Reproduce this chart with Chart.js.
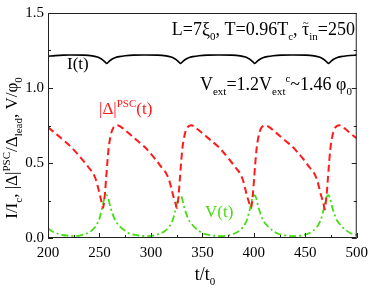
<!DOCTYPE html>
<html>
<head>
<meta charset="utf-8">
<script src="https://cdn.jsdelivr.net/npm/chart.js@4/dist/chart.umd.min.js"></script>
<style>
  html,body{margin:0;padding:0;background:#fff;}
  #wrap{position:relative;width:374px;height:290px;}
</style>
</head>
<body>
<div id="wrap"><canvas id="c"></canvas></div>
<script>
// I(t) current
const tCurrent = [200,207,215,221,235,243,248,251,253,255,257,258,259.5,262,265,269,275,283,293,
  306.7,314.7,319.7,322.7,324.7,326.7,328.7,329.7,331.2,333.7,336.7,340.7,346.7,354.7,365,
  378.8,386.8,391.8,394.8,396.8,398.8,400.8,401.8,403.3,405.8,408.8,412.8,418.8,426.8,437,
  450.5,458.5,463.5,466.5,468.5,470.5,472.5,473.5,475,477.5,480.5,484.5,490.5,498.5,500];
const current = [1.212,1.216,1.219,1.220,1.219,1.214,1.206,1.197,1.188,1.176,1.163,1.168,1.178,1.192,1.202,1.209,1.215,1.219,1.220,
  1.219,1.214,1.206,1.197,1.188,1.176,1.163,1.168,1.178,1.192,1.202,1.209,1.215,1.219,1.220,
  1.219,1.214,1.206,1.197,1.188,1.176,1.163,1.168,1.178,1.192,1.202,1.209,1.215,1.219,1.220,
  1.219,1.214,1.206,1.197,1.188,1.176,1.163,1.168,1.178,1.192,1.202,1.209,1.215,1.219,1.219];

// |Delta|^PSC(t)
const tGap = [200,206,212,218,224,230,235.5,239.5,243.5,246.5,248.5,250.5,252,253.5,
  254.5,255.5,256.5,257.5,258.5,259.5,261.5,263.5,265.5,267.5,270.5,275.5,281.5,287.5,293.5,299.5,305.5,310.5,314.5,317.5,319.5,321.5,323.5,325.2,
  326.2,327.2,328.2,329.2,330.2,331.2,333.2,335.2,337.2,339.2,342.2,347.2,353.2,359.2,365.2,371.2,377.2,382.2,386.2,389.2,391.2,393.2,395.2,397.3,
  398.3,399.3,400.3,401.3,402.3,403.3,405.3,407.3,409.3,411.3,414.3,419.3,425.3,431.3,437.3,443.3,449.3,454.3,458.3,461.3,463.3,465.3,467.3,469,
  470,471,472,473,474,475,477,479,481,483,486,491,497,500];
const gap = [0.738,0.705,0.67,0.635,0.595,0.55,0.505,0.47,0.435,0.39,0.34,0.285,0.24,0.20,
  0.24,0.31,0.40,0.49,0.57,0.63,0.70,0.735,0.748,0.752,0.742,0.715,0.68,0.645,0.61,0.565,0.515,0.47,0.435,0.39,0.34,0.285,0.24,0.20,
  0.24,0.31,0.40,0.49,0.57,0.63,0.70,0.735,0.748,0.752,0.742,0.715,0.68,0.645,0.61,0.565,0.515,0.47,0.435,0.39,0.34,0.285,0.24,0.20,
  0.24,0.31,0.40,0.49,0.57,0.63,0.70,0.735,0.748,0.752,0.742,0.715,0.68,0.645,0.61,0.565,0.515,0.47,0.435,0.39,0.34,0.285,0.24,0.19,
  0.24,0.31,0.40,0.49,0.57,0.63,0.70,0.735,0.748,0.752,0.742,0.715,0.68,0.665];

// V(t)
const tVolt = [200,204,209,214,220,226,232,237.5,242.5,246.5,249.5,251.5,253.5,255,257,258.5,260.5,262.5,265.5,269.5,273.5,278.5,283.5,290,297,
  303.5,309.2,314.2,318.2,321.2,323.2,325.2,326.7,328.7,330.2,332.2,334.2,337.2,341.2,345.2,350.2,355.2,362,369,
  375.5,381.3,386.3,390.3,393.3,395.3,397.3,398.8,400.8,402.3,404.3,406.3,409.3,413.3,417.3,422.3,427.3,434,441,
  447,453,458,462,465,467,469,470.5,472.5,474,476,478,481,485,489,494,500];
const volt = [0.065,0.045,0.03,0.02,0.015,0.013,0.018,0.03,0.05,0.08,0.12,0.17,0.225,0.27,0.285,0.265,0.21,0.165,0.115,0.08,0.055,0.032,0.022,0.015,0.013,
  0.018,0.03,0.05,0.08,0.12,0.17,0.225,0.27,0.285,0.265,0.21,0.165,0.115,0.08,0.055,0.032,0.022,0.015,0.013,
  0.018,0.03,0.05,0.08,0.12,0.17,0.225,0.27,0.285,0.265,0.21,0.165,0.115,0.08,0.055,0.032,0.022,0.015,0.013,
  0.018,0.03,0.05,0.08,0.12,0.17,0.225,0.27,0.285,0.265,0.21,0.165,0.115,0.08,0.055,0.032,0.02];

const xTicks = [200,250,300,350,400,450,500];
const yTicks = [0.0,0.5,1.0,1.5];

const FONT = '"Liberation Serif","DejaVu Serif",serif';
const RED = '#ff1a1a', GREEN = '#44dd11';

function pts(xs, ys){ return xs.map((x,i)=>({x:x, y:ys[i]})); }

// draw text with sub / superscripts; parts: [text, kind]  kind: sub | sup | tilde
function rich(ctx, x, y, parts, size, color, align){
  const small = Math.round(size*0.62);
  const fontOf = k => ((k==='sub'||k==='sup') ? small : size) + 'px ' + FONT;
  let w = 0;
  parts.forEach(p=>{
    ctx.font = fontOf(p[1]);
    w += ctx.measureText(p[0]).width;
  });
  let cx = align==='right' ? x - w : align==='center' ? x - w/2 : x;
  ctx.fillStyle = color;
  ctx.textBaseline = 'alphabetic';
  ctx.textAlign = 'left';
  parts.forEach(p=>{
    const k = p[1];
    ctx.font = fontOf(k);
    const dy = k==='sub' ? size*0.28 : k==='sup' ? -size*0.42 : 0;
    const cw = ctx.measureText(p[0]).width;
    ctx.fillText(p[0], cx, y + dy);
    if(k==='tilde'){
      ctx.font = small + 'px ' + FONT;
      ctx.textAlign = 'center';
      ctx.fillText('~', cx + cw/2, y - size*0.5);
      ctx.textAlign = 'left';
    }
    cx += cw;
  });
}

const decor = {
  id:'decor',
  afterDraw(chart){
    const {ctx, chartArea:a, scales:{x, y}} = chart;
    ctx.save();
    ctx.strokeStyle = '#222';
    ctx.lineWidth = 1;
    ctx.strokeRect(a.left+0.5, a.top+0.5, a.right-a.left-1, a.bottom-a.top-1);
    ctx.beginPath();
    for(let v=200; v<=500; v+=25){
      const px = Math.round(x.getPixelForValue(v))+0.5;
      const len = v%50===0 ? 5 : 3;
      ctx.moveTo(px, a.bottom); ctx.lineTo(px, a.bottom-len);
    }
    for(let v=0; v<=1.5001; v+=0.25){
      const py = Math.round(y.getPixelForValue(v))+0.5;
      const len = Math.abs(v*2-Math.round(v*2))<1e-6 ? 5 : 3;
      ctx.moveTo(a.left, py); ctx.lineTo(a.left+len, py);
      ctx.moveTo(a.right, py); ctx.lineTo(a.right-len, py);
    }
    ctx.stroke();

    rich(ctx, 355, 35, [['L=7ξ'],['0','sub'],[', T=0.96T'],['c','sub'],[', '],['τ','tilde'],['in','sub'],['=250']], 18, '#000', 'right');
    rich(ctx, 67, 69, [['I(t)']], 17, '#000');
    rich(ctx, 352, 90, [['V'],['ext','sub'],['=1.2V'],['ext','sub'],['c','sup'],['~1.46 φ'],['0','sub']], 18, '#000', 'right');
    rich(ctx, 99, 114, [['|Δ|'],['PSC','sup'],['(t)']], 17, RED);
    rich(ctx, 205, 217, [['V(t)']], 17, GREEN);
    rich(ctx, 205, 280, [['t/t'],['0','sub']], 18, '#000', 'center');

    ctx.translate(17, 148);
    ctx.rotate(-Math.PI/2);
    rich(ctx, 0, 0, [['I/I'],['c','sub'],[', |Δ|'],['PSC','sup'],['/Δ'],['lead','sub'],[', V/φ'],['0','sub']], 17, '#000', 'center');
    ctx.restore();
  }
};

new Chart(document.getElementById('c'), {
  type:'scatter',
  data:{
    datasets:[
      { data:pts(tCurrent, current), showLine:true, borderColor:'#000', borderWidth:1.6, pointRadius:0, tension:0.3 },
      { data:pts(tGap, gap), showLine:true, borderColor:RED, borderWidth:2, borderDash:[7,4], pointRadius:0, tension:0.3 },
      { data:pts(tVolt, volt), showLine:true, borderColor:GREEN, borderWidth:1.8, borderDash:[7,3,2,3], pointRadius:0, tension:0.3 }
    ]
  },
  options:{
    responsive:true,
    maintainAspectRatio:false,
    animation:false,
    layout:{ padding:{ left:0, top:7, right:12, bottom:0 } },
    plugins:{ legend:{ display:false }, tooltip:{ enabled:false } },
    scales:{
      x:{
        type:'linear', min:200, max:500,
        afterBuildTicks: s => { s.ticks = xTicks.map(v=>({value:v})); },
        afterFit: s => { s.height = 52; },
        grid:{ display:false, drawTicks:false },
        border:{ display:false },
        ticks:{ color:'#000', font:{ family:FONT, size:15 }, padding:6, maxRotation:0 }
      },
      y:{
        min:0, max:1.5,
        afterBuildTicks: s => { s.ticks = yTicks.map(v=>({value:v})); },
        afterFit: s => { s.width = 48; },
        grid:{ display:false, drawTicks:false },
        border:{ display:false },
        ticks:{ color:'#000', font:{ family:FONT, size:15 }, padding:4, callback: v => v.toFixed(1) }
      }
    }
  },
  plugins:[decor]
});
</script>
</body>
</html>
